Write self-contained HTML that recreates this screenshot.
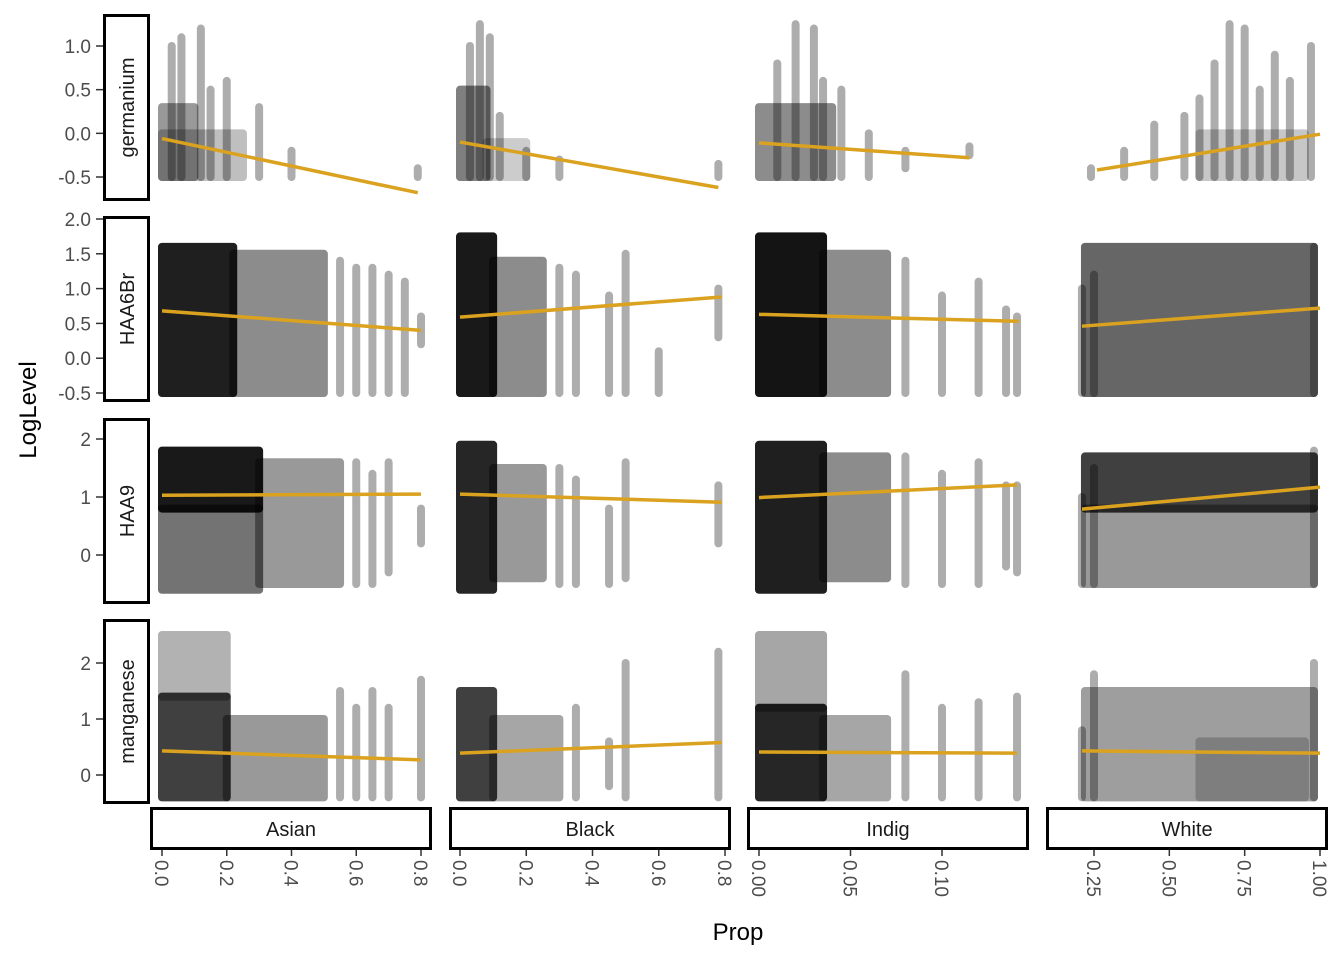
<!DOCTYPE html>
<html><head><meta charset="utf-8"><style>
body{margin:0;background:#fff}
svg{display:block;font-family:"Liberation Sans",Arial,sans-serif}
</style></head><body>
<svg id="c" width="1344" height="960" viewBox="0 0 1344 960"></svg>
<script>
const colNames=["Asian","Black","Indig","White"];
const rowNames=["germanium","HAA6Br","HAA9","manganese"];
const xTicks=[[0,0.2,0.4,0.6,0.8],[0,0.2,0.4,0.6,0.8],[0,0.05,0.10],[0.25,0.5,0.75,1.0]];
const xTickLabels=[["0.0","0.2","0.4","0.6","0.8"],["0.0","0.2","0.4","0.6","0.8"],["0.00","0.05","0.10"],["0.25","0.50","0.75","1.00"]];
const yTicks=[[1,0.5,0,-0.5],[2,1.5,1,0.5,0,-0.5],[2,1,0],[2,1,0]];
const yTickLabels=[["1.0","0.5","0.0","-0.5"],["2.0","1.5","1.0","0.5","0.0","-0.5"],["2","1","0"],["2","1","0"]];
// fitted lines [x0,y0,x1,y1] per row/col
const fitLines=[
 [[0,-0.06,0.79,-0.68],[0,-0.1,0.78,-0.62],[0,-0.11,0.115,-0.28],[0.26,-0.42,1.0,-0.01]],
 [[0,0.68,0.8,0.4],[0,0.59,0.79,0.88],[0,0.63,0.142,0.53],[0.21,0.46,1.0,0.72]],
 [[0,1.03,0.8,1.05],[0,1.05,0.79,0.91],[0,0.99,0.141,1.21],[0.21,0.79,1.0,1.17]],
 [[0,0.43,0.8,0.27],[0,0.39,0.79,0.58],[0,0.41,0.141,0.39],[0.21,0.43,1.0,0.39]]];
// dense point blocks [x0,x1,y0,y1,opacity]
const blocks=[
 [[[0,0.1,-0.5,0.3,0.4],[0,0.25,-0.5,0,0.25]],[[0,0.08,-0.5,0.5,0.5],[0.08,0.2,-0.5,-0.1,0.2]],[[0,0.04,-0.5,0.3,0.45]],[[0.6,0.95,-0.5,0,0.22]]],
 [[[0,0.22,-0.5,1.6,0.88],[0.22,0.5,-0.5,1.5,0.45]],[[0,0.1,-0.5,1.75,0.9],[0.1,0.25,-0.5,1.4,0.45]],[[0,0.035,-0.5,1.75,0.92],[0.035,0.07,-0.5,1.5,0.45]],[[0.22,0.98,-0.5,1.6,0.6]]],
 [[[0,0.3,0.8,1.8,0.9],[0,0.3,-0.6,0.8,0.55],[0.3,0.55,-0.5,1.6,0.4]],[[0,0.1,-0.6,1.9,0.85],[0.1,0.25,-0.4,1.5,0.4]],[[0,0.035,-0.6,1.9,0.88],[0.035,0.07,-0.4,1.7,0.45]],[[0.22,0.98,0.8,1.7,0.75],[0.22,0.98,-0.5,0.8,0.4]]],
 [[[0,0.2,-0.4,1.4,0.75],[0,0.2,1.4,2.5,0.3],[0.2,0.5,-0.4,1.0,0.4]],[[0,0.1,-0.4,1.5,0.75],[0.1,0.3,-0.4,1,0.35]],[[0,0.035,-0.4,1.2,0.85],[0,0.035,1.2,2.5,0.35],[0.035,0.07,-0.4,1,0.35]],[[0.22,0.98,-0.4,1.5,0.38],[0.6,0.95,-0.4,0.6,0.2]]]];
// sparse point stripes [x,ymin,ymax]
const stripes=[
 [[[0.03,-0.5,1.0],[0.06,-0.5,1.1],[0.12,-0.5,1.2],[0.15,-0.5,0.5],[0.2,-0.5,0.6],[0.3,-0.5,0.3],[0.4,-0.5,-0.2],[0.79,-0.5,-0.4]],
  [[0.03,-0.5,1.0],[0.06,-0.5,1.25],[0.09,-0.5,1.1],[0.12,-0.5,0.2],[0.2,-0.5,-0.2],[0.3,-0.5,-0.3],[0.78,-0.5,-0.35]],
  [[0.01,-0.5,0.8],[0.02,-0.5,1.25],[0.03,-0.5,1.2],[0.035,-0.5,0.6],[0.045,-0.5,0.5],[0.06,-0.5,0],[0.08,-0.4,-0.2],[0.115,-0.25,-0.15]],
  [[0.24,-0.5,-0.4],[0.35,-0.5,-0.2],[0.45,-0.5,0.1],[0.55,-0.5,0.2],[0.6,-0.5,0.4],[0.65,-0.5,0.8],[0.7,-0.5,1.25],[0.75,-0.5,1.2],[0.8,-0.5,0.5],[0.85,-0.5,0.9],[0.9,-0.5,0.6],[0.97,-0.5,1.0]]],
 [[[0.55,-0.5,1.4],[0.6,-0.5,1.3],[0.65,-0.5,1.3],[0.7,-0.5,1.2],[0.75,-0.5,1.1],[0.8,0.2,0.6]],
  [[0.3,-0.5,1.3],[0.35,-0.5,1.2],[0.45,-0.5,0.9],[0.5,-0.5,1.5],[0.6,-0.5,0.1],[0.78,0.3,1.0]],
  [[0.08,-0.5,1.4],[0.1,-0.5,0.9],[0.12,-0.5,1.1],[0.135,-0.5,0.7],[0.141,-0.5,0.6]],
  [[0.21,-0.5,1.0],[0.25,-0.5,1.2],[0.98,-0.5,1.6]]],
 [[[0.6,-0.5,1.6],[0.65,-0.5,1.4],[0.7,-0.3,1.6],[0.8,0.2,0.8]],
  [[0.3,-0.5,1.5],[0.35,-0.5,1.3],[0.45,-0.5,0.8],[0.5,-0.4,1.6],[0.78,0.2,1.2]],
  [[0.08,-0.5,1.7],[0.1,-0.5,1.4],[0.12,-0.5,1.6],[0.135,-0.2,1.2],[0.141,-0.3,1.2]],
  [[0.21,-0.5,1.0],[0.25,-0.5,1.5],[0.98,-0.5,1.8]]],
 [[[0.55,-0.4,1.5],[0.6,-0.4,1.2],[0.65,-0.4,1.5],[0.7,-0.4,1.2],[0.8,-0.4,1.7]],
  [[0.35,-0.4,1.2],[0.45,-0.2,0.6],[0.5,-0.4,2.0],[0.78,-0.4,2.2]],
  [[0.08,-0.4,1.8],[0.1,-0.4,1.2],[0.12,-0.4,1.3],[0.141,-0.4,1.4]],
  [[0.21,-0.4,0.8],[0.25,-0.4,1.8],[0.98,-0.4,2.0]]]];

const colPx=[[150,432],[449,731],[747,1029],[1046,1328]];
const rowPx=[[14,201],[216,402],[418,604],[619,804]];
const xRef=[[0,162,0.8,421],[0,460,0.8,725],[0,759,0.1,942],[0.25,1094,1,1320]];
const yRef=[[1,46,-0.5,177],[2,219,-0.5,393],[2,439,0,555],[2,663,0,775]];
function sx(c,v){const r=xRef[c];return r[1]+(v-r[0])*(r[3]-r[1])/(r[2]-r[0]);}
function sy(rw,v){const r=yRef[rw];return r[1]+(v-r[0])*(r[3]-r[1])/(r[2]-r[0]);}
const NS="http://www.w3.org/2000/svg",svg=document.getElementById('c');
function mk(t,a,p){const e=document.createElementNS(NS,t);for(const k in a)e.setAttribute(k,a[k]);(p||svg).appendChild(e);return e;}

for(let r=0;r<4;r++)for(let c=0;c<4;c++){
  const g=mk('g',{});
  
  
  for(const b of blocks[r][c]){
    const x0=sx(c,b[0])-4,x1=sx(c,b[1])+4,y0=sy(r,b[3])-4,y1=sy(r,b[2])+4;
    const e=mk('rect',{x:x0,y:y0,width:x1-x0,height:y1-y0,rx:4,fill:'#000','fill-opacity':b[4]},g);
    
    
  }
  for(const s of stripes[r][c]){
    const x=sx(c,s[0]),y0=sy(r,s[2])-4,y1=sy(r,s[1])+4;
    const e=mk('rect',{x:x-4,y:y0,width:8,height:y1-y0,rx:4,fill:'#000','fill-opacity':0.32},g);
    
    
  }
  const L=fitLines[r][c];
  const ln=mk('line',{x1:sx(c,L[0]),y1:sy(r,L[1]),x2:sx(c,L[2]),y2:sy(r,L[3]),stroke:'#DAA21F','stroke-width':3.5},g);
  
  
}
for(let r=0;r<4;r++){
  const [t,b]=rowPx[r];
  const bx=mk('rect',{x:104.5,y:t+1.5,width:44,height:b-t-3,fill:'#fff',stroke:'#000','stroke-width':3});
  
  
  const tx=mk('text',{x:0,y:0,transform:`translate(134,${(t+b)/2}) rotate(-90)`,'text-anchor':'middle','font-size':20,fill:'#1a1a1a'});
  tx.textContent=rowNames[r];
  
  
  yTicks[r].forEach((v,i)=>{
    const y=sy(r,v);
    mk('line',{x1:96,x2:103,y1:y,y2:y,stroke:'#333','stroke-width':1.5});
    const l=mk('text',{x:91,y:y+7,'text-anchor':'end','font-size':19,fill:'#4d4d4d'});
    l.textContent=yTickLabels[r][i];
    
    
  });
}
for(let c=0;c<4;c++){
  const [l,rr]=colPx[c];
  const bx=mk('rect',{x:l+1.5,y:808.5,width:rr-l-3,height:40,fill:'#fff',stroke:'#000','stroke-width':3});
  
  
  const tx=mk('text',{x:(l+rr)/2,y:836,'text-anchor':'middle','font-size':20,fill:'#1a1a1a'});
  tx.textContent=colNames[c];
  
  
  xTicks[c].forEach((v,i)=>{
    const x=sx(c,v);
    mk('line',{x1:x,x2:x,y1:850,y2:856,stroke:'#333','stroke-width':1.5});
    const t=mk('text',{x:0,y:0,transform:`translate(${x-7},860) rotate(90)`,'font-size':19,fill:'#4d4d4d'});
    t.textContent=xTickLabels[c][i];
    
    
  });
}
const yt=mk('text',{x:0,y:0,transform:'translate(36,410) rotate(-90)','text-anchor':'middle','font-size':24,fill:'#000'});
yt.textContent='LogLevel';


const xt=mk('text',{x:738,y:940,'text-anchor':'middle','font-size':24,fill:'#000'});
xt.textContent='Prop';


</script>
</body></html>
